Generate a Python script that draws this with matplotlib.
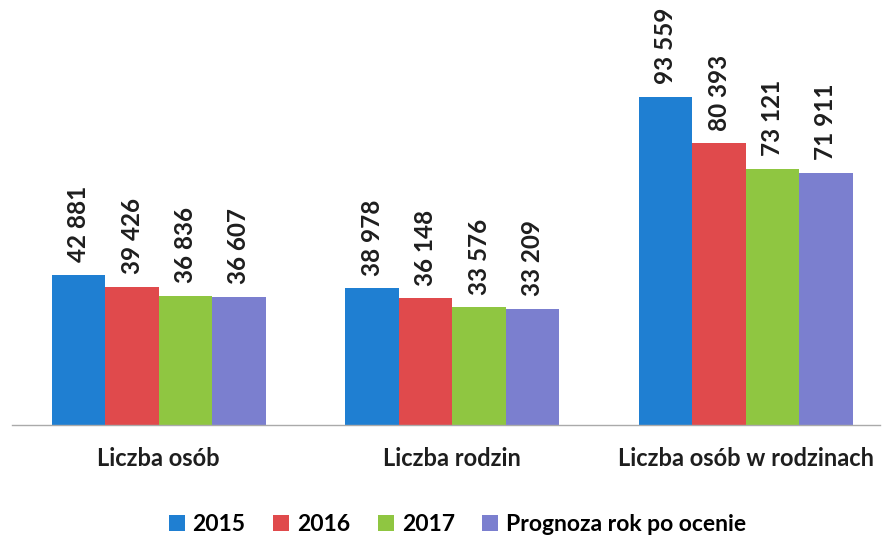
'''
Grouped bar chart: liczba osób / rodzin, 2015-2017 + prognoza
'''

import matplotlib as mpl
import matplotlib.pyplot as plt
import numpy as np

mpl.rcParams['font.family'] = ['Lato', 'DejaVu Sans']
mpl.rcParams['font.weight'] = 'bold'

#data
categories = ['Liczba osób', 'Liczba rodzin', 'Liczba osób w rodzinach']
series = ['2015', '2016', '2017', 'Prognoza rok po ocenie']
v2015 = [42881, 38978, 93559]
v2016 = [39426, 36148, 80393]
v2017 = [36836, 33576, 73121]
vprog = [36607, 33209, 71911]
colors = ['#1f7fd2', '#e04a4c', '#8fc641', '#7b7fcf']

values = [v2015, v2016, v2017, vprog]

fig = plt.figure(figsize=(8.85, 5.37), dpi=100)
ax = fig.add_axes([12/885, 112/537, 868/885, 425/537])

x = np.arange(len(categories))
w = 0.182
for i, (name, vals, c) in enumerate(zip(series, values, colors)):
	pos = x + (i - 1.5)*w
	bars = ax.bar(pos, vals, width=w, color=c, label=name, linewidth=0)
	for b, v in zip(bars, vals):
		lab = '{:,}'.format(v).replace(',', ' ')
		ax.annotate(lab,
			(b.get_x() + b.get_width()/2, b.get_height()),
			xytext=(0, 9), textcoords='offset points',
			rotation=90, ha='center', va='bottom',
			fontsize=17.5, fontweight='bold', color='#1e1e1e')

ax.set_xlim(-0.5, 2.457)
ax.set_ylim(0, 121200)

#axis styling
for s in ['top', 'right', 'left']:
	ax.spines[s].set_visible(False)
ax.spines['bottom'].set_color('#aaaaaa')
ax.spines['bottom'].set_linewidth(1)
ax.set_yticks([])
ax.set_xticks(x)
ax.set_xticklabels(categories, fontsize=17, fontweight='bold', color='#1e1e1e')
ax.tick_params(axis='x', length=0, pad=16)

fig.legend(loc='lower center', bbox_to_anchor=(0.517, -0.035), ncol=4,
	frameon=False, fontsize=16.5, handlelength=0.7, handleheight=0.7,
	handletextpad=0.35, columnspacing=1.2)

fig.savefig('out.png', dpi=100)
